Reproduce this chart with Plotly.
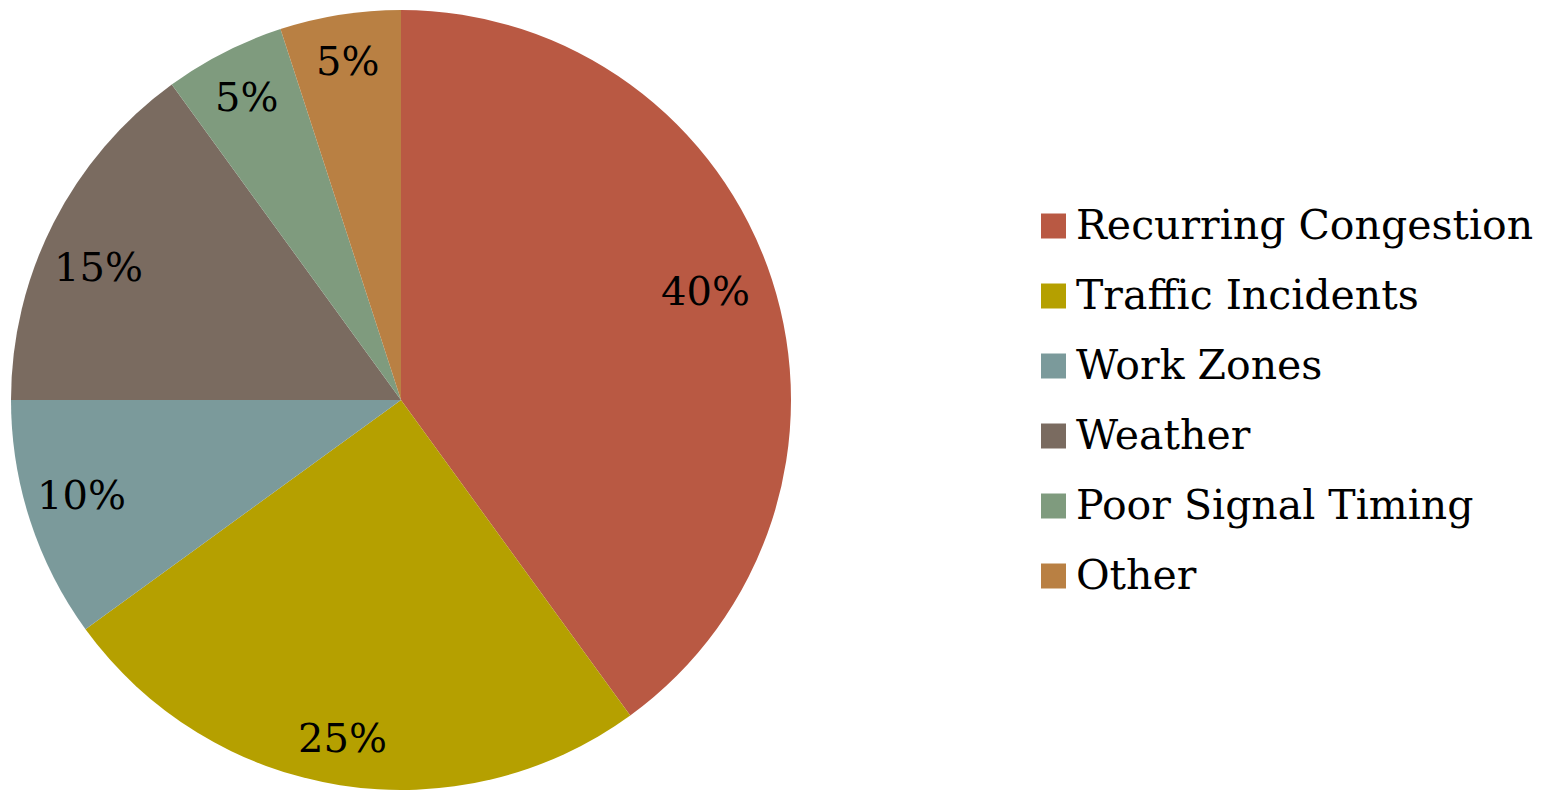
import math
import plotly.graph_objects as go

# Share of congestion by cause (percent)
causes = ["Recurring Congestion", "Traffic Incidents", "Work Zones",
          "Weather", "Poor Signal Timing", "Other"]
shares = [40, 25, 10, 15, 5, 5]
colors = ["#B95943", "#B5A000", "#7B9A9B", "#7A6B60", "#7F9B7E", "#B98043"]

# small pixel nudges so each percentage label sits neatly inside its slice
label_nudge = [(-13, -6), (-6, 9), (-2, -8), (-5, 18), (-3, -6), (-1, -10)]

W, H = 1546, 790
TOP = 10
FONT = "DejaVu Serif"

# pie occupies a square region on the left
pie_w = 802
fig = go.Figure(go.Pie(
    labels=causes,
    values=shares,
    sort=False,
    direction="clockwise",
    rotation=0,
    marker=dict(colors=colors, line=dict(width=0)),
    textinfo="none",
    hoverinfo="label+percent",
    showlegend=False,
    domain=dict(x=[0, pie_w / W], y=[0, 1]),
))

# percentage labels placed near the rim of each slice
plot_h = H - TOP
cx, cy = pie_w / 2, TOP + plot_h / 2
R = min(pie_w, plot_h) / 2
total = sum(shares)
annotations = []
cum = 0
for val, (nx, ny) in zip(shares, label_nudge):
    mid = (cum + val / 2) / total * 2 * math.pi
    cum += val
    r = 0.855 * R
    px = cx + r * math.sin(mid) + nx
    py = cy - r * math.cos(mid) + ny
    annotations.append(dict(
        x=px / W, y=(H - py) / plot_h, xref="paper", yref="paper",
        text=f"{round(val / total * 100)}%", showarrow=False,
        xanchor="center", yanchor="middle",
        font=dict(family=FONT, size=40, color="#000000"),
    ))

# legend: colour squares with cause names
shapes = []
leg_x0, sq = 1041, 25
row0, step = 226, 70
for i, (name, col) in enumerate(zip(causes, colors)):
    yc = row0 + i * step
    shapes.append(dict(
        type="rect", xref="paper", yref="paper",
        x0=leg_x0 / W, x1=(leg_x0 + sq) / W,
        y0=(H - (yc + sq / 2)) / plot_h, y1=(H - (yc - sq / 2)) / plot_h,
        fillcolor=col, line=dict(width=0),
    ))
    annotations.append(dict(
        x=1074 / W, y=(H - (yc - 1)) / plot_h, xref="paper", yref="paper",
        text=name, showarrow=False, xanchor="left", yanchor="middle",
        font=dict(family=FONT, size=41, color="#000000"),
    ))

fig.update_layout(
    width=W, height=H,
    margin=dict(l=0, r=0, t=TOP, b=0),
    paper_bgcolor="white", plot_bgcolor="white",
    annotations=annotations, shapes=shapes,
)

fig.write_html("out.html")
